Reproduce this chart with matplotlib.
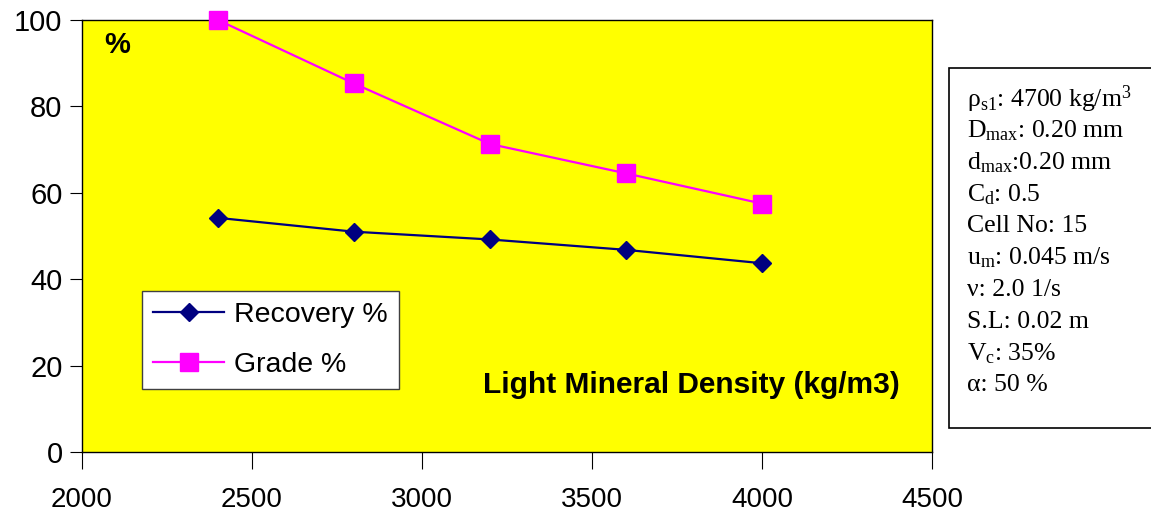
import matplotlib.pyplot as plt
from matplotlib.patches import Rectangle

# light mineral density (kg/m3)
density = [2400, 2800, 3200, 3600, 4000]
recovery = [54.2, 51.0, 49.2, 46.8, 43.7]
grade = [100.0, 85.3, 71.3, 64.5, 57.5]

xticks = [2000, 2500, 3000, 3500, 4000, 4500]
yticks = [0, 20, 40, 60, 80, 100]

params = [
    r'$\mathrm{ρ_{s1}}$: 4700 kg/m$^{\mathrm{3}}$',
    r'$\mathrm{D_{max}}$: 0.20 mm',
    r'$\mathrm{d_{max}}$:0.20 mm',
    r'$\mathrm{C_{d}}$: 0.5',
    'Cell No: 15',
    r'$\mathrm{u_{m}}$: 0.045 m/s',
    'ν: 2.0 1/s',
    'S.L: 0.02 m',
    r'$\mathrm{V_{c}}$: 35%',
    'α: 50 %',
]

plt.rcParams['font.family'] = ['Liberation Sans', 'DejaVu Sans']
plt.rcParams['mathtext.fontset'] = 'custom'
plt.rcParams['mathtext.rm'] = 'Liberation Serif'
plt.rcParams['mathtext.it'] = 'Liberation Serif:italic'

fig = plt.figure(figsize=(11.51, 5.19), dpi=100)
ax = fig.add_axes([0.0712, 0.129, 0.7385, 0.8325])
ax.set_facecolor('#FFFF00')

ax.plot(density, recovery, color='#000080', lw=1.6, marker='D', ms=9.5,
        label='Recovery %', clip_on=False, zorder=3)
ax.plot(density, grade, color='#FF00FF', lw=1.6, marker='s', ms=13,
        label='Grade %', clip_on=False, zorder=3)

ax.set_xlim(2000, 4500)
ax.set_ylim(0, 100)
ax.set_xticks(xticks)
ax.set_yticks(yticks)
ax.tick_params(axis='x', direction='out', length=12, pad=13, labelsize=20)
ax.tick_params(axis='y', direction='out', length=9, pad=5, labelsize=21)
for s in ax.spines.values():
    s.set_color('black')
    s.set_linewidth(1.0)

ax.text(0.026, 0.975, '%', transform=ax.transAxes, fontsize=21,
        fontweight='bold', va='top', ha='left')
ax.text(0.962, 0.155, 'Light Mineral Density (kg/m3)', transform=ax.transAxes,
        fontsize=21.5, fontweight='bold', ha='right', va='center')

leg = ax.legend(loc='upper left', bbox_to_anchor=(0.071, 0.373), fontsize=20.5,
                frameon=True, fancybox=False, handlelength=2.5,
                borderpad=0.38, labelspacing=0.85, handletextpad=0.35,
                borderaxespad=0)
leg.get_frame().set_edgecolor('#404040')
leg.get_frame().set_facecolor('white')
leg.get_frame().set_alpha(1)
leg.get_frame().set_linewidth(1.0)

# parameter box on the right
fig.add_artist(Rectangle((949 / 1151, 1 - 428 / 519), 0.2, (428 - 68) / 519,
                         transform=fig.transFigure, facecolor='white',
                         edgecolor='black', lw=1.2))
for i, line in enumerate(params):
    fig.text(967 / 1151, 1 - (99 + 31.8 * i) / 519, line, fontsize=18.5,
             family='Liberation Serif', va='center', ha='left')

fig.savefig('out.png', dpi=100)
